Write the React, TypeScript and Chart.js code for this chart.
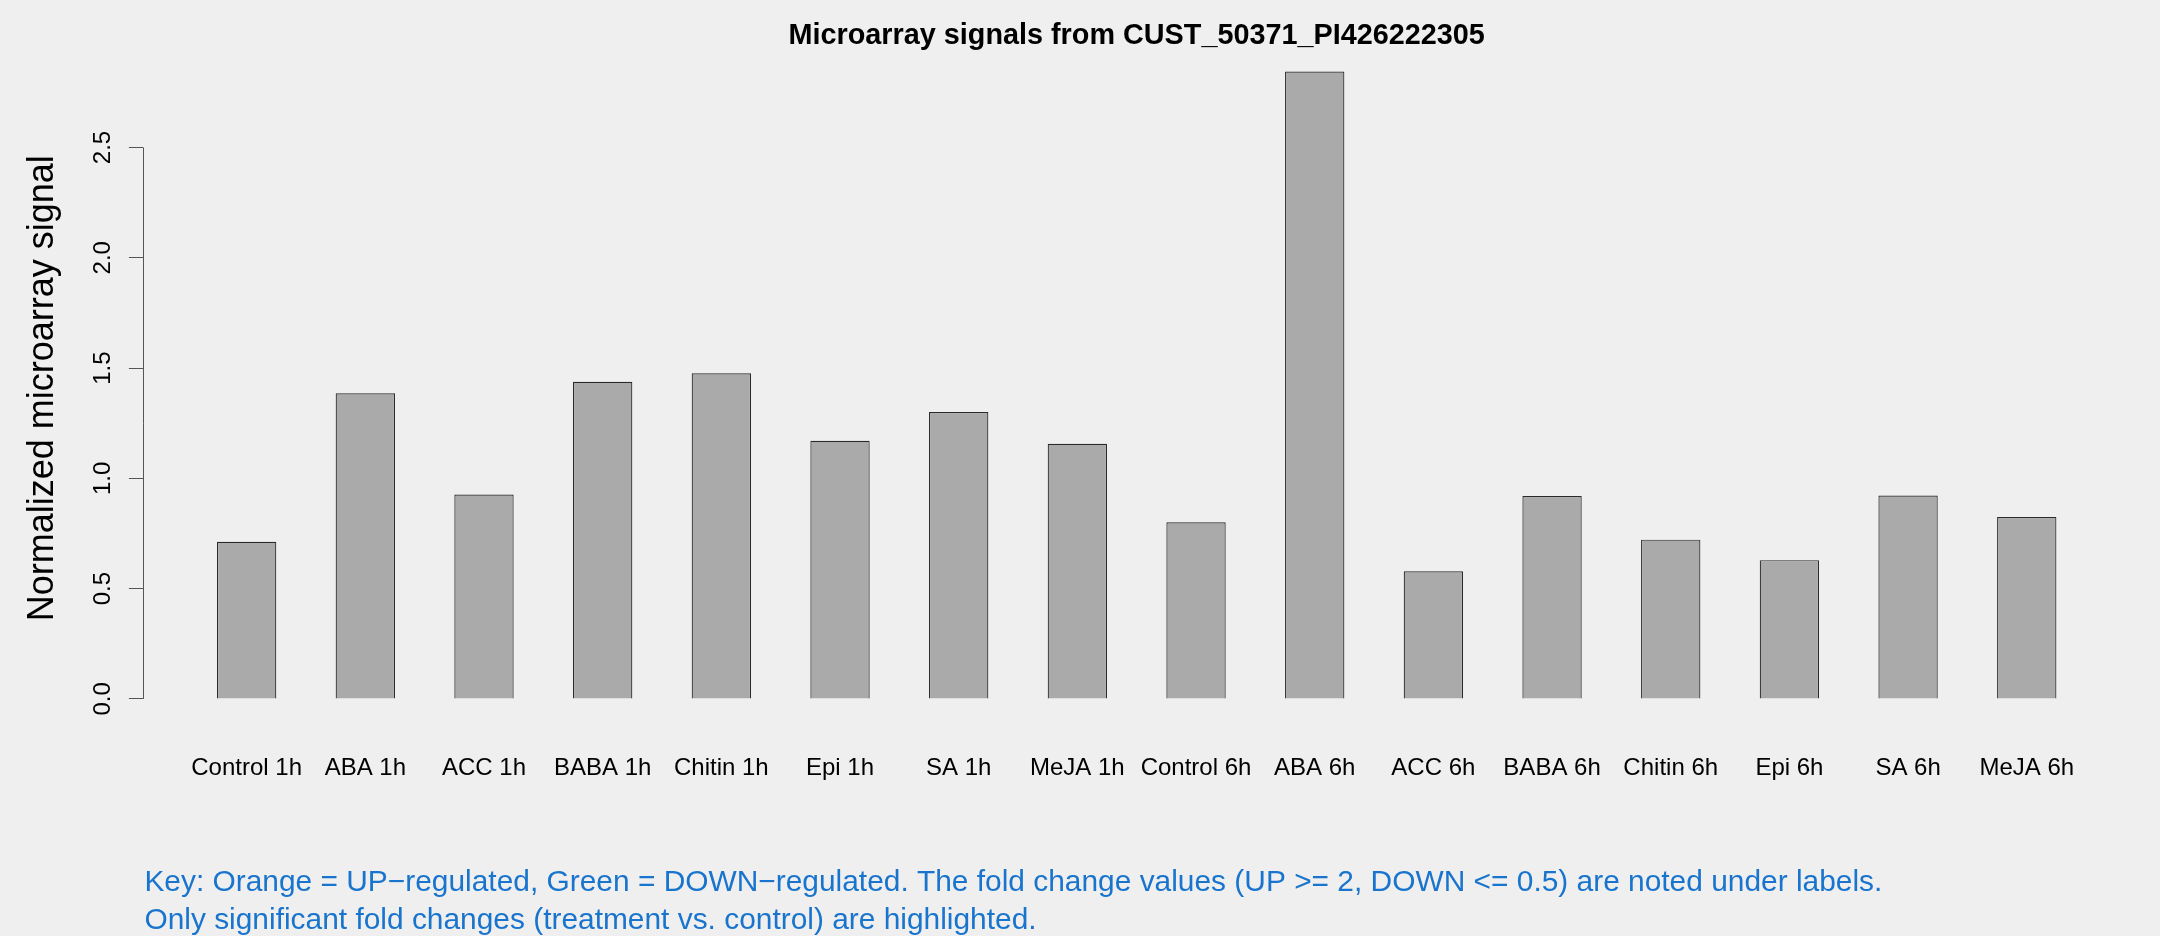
import React, { useEffect, useRef } from "react";
import { Chart, registerables } from "chart.js";

Chart.register(...registerables);

const TITLE = "Microarray signals from CUST_50371_PI426222305";
const Y_TITLE = "Normalized microarray signal";
const CATEGORIES = [
  "Control 1h", "ABA 1h", "ACC 1h", "BABA 1h", "Chitin 1h", "Epi 1h", "SA 1h", "MeJA 1h",
  "Control 6h", "ABA 6h", "ACC 6h", "BABA 6h", "Chitin 6h", "Epi 6h", "SA 6h", "MeJA 6h",
];
const SIGNALS = [
  0.712, 1.386, 0.927, 1.438, 1.476, 1.170, 1.301, 1.157,
  0.801, 2.844, 0.579, 0.920, 0.722, 0.629, 0.922, 0.825,
];
const Y_TICKS = [0, 0.5, 1, 1.5, 2, 2.5];
const Y_TICK_LABELS = ["0.0", "0.5", "1.0", "1.5", "2.0", "2.5"];
const KEY_LINES = [
  "Key: Orange = UP\u2212regulated, Green = DOWN\u2212regulated. The fold change values (UP >= 2, DOWN <= 0.5) are noted under labels.",
  "Only significant fold changes (treatment vs. control) are highlighted.",
];

const FONT = "'Liberation Sans', Arial, Helvetica, sans-serif";

// R barplot geometry (width 1, space 1): bar i spans [2i+1, 2i+2]
const barCenter = (i: number) => 2 * i + 1.5;
const X_LO = 1;
const X_HI = 2 * CATEGORIES.length;
const X_EXT = 0.04 * (X_HI - X_LO);
const Y_MAX = Math.max(...SIGNALS);

const decorPlugin = {
  id: "decor",
  afterDraw(chart: any) {
    const { ctx, chartArea } = chart;
    const ys = chart.scales.y;
    ctx.save();
    // y axis line from first to last tick
    const ax = Math.floor(chartArea.left) + 0.5;
    ctx.strokeStyle = "#555";
    ctx.lineWidth = 1;
    ctx.beginPath();
    ctx.moveTo(ax, ys.getPixelForValue(Y_TICKS[0]));
    ctx.lineTo(ax, ys.getPixelForValue(Y_TICKS[Y_TICKS.length - 1]));
    ctx.stroke();
    // rotated y tick labels
    ctx.fillStyle = "#000";
    ctx.font = `24px ${FONT}`;
    ctx.textAlign = "center";
    ctx.textBaseline = "alphabetic";
    Y_TICKS.forEach((v, i) => {
      const y = ys.getPixelForValue(v);
      ctx.save();
      ctx.translate(chartArea.left - 33.4, y);
      ctx.rotate(-Math.PI / 2);
      ctx.fillText(Y_TICK_LABELS[i], 0, 0);
      ctx.restore();
    });
    // y axis title
    ctx.save();
    ctx.font = `36px ${FONT}`;
    ctx.translate(52.7, (chartArea.top + chartArea.bottom) / 2 + 3);
    ctx.rotate(-Math.PI / 2);
    ctx.fillText(Y_TITLE, 0, 0);
    ctx.restore();
    // key text
    ctx.fillStyle = "#1874CD";
    ctx.font = `29.9px ${FONT}`;
    ctx.textAlign = "left";
    KEY_LINES.forEach((line, i) => {
      ctx.fillText(line, chartArea.left + 1, 891 + i * 37.5);
    });
    ctx.restore();
  },
};

export default function App() {
  const ref = useRef<HTMLCanvasElement>(null);
  useEffect(() => {
    const chart = new Chart(ref.current!, {
      type: "bar",
      data: {
        datasets: [
          {
            data: SIGNALS.map((v, i) => ({ x: barCenter(i), y: v })),
            backgroundColor: "#AAAAAA",
            borderColor: "#2A2A2A",
            borderWidth: 1.2,
            barPercentage: 0.5,
            categoryPercentage: 1,
          },
        ],
      },
      options: {
        animation: false,
        responsive: false,
        devicePixelRatio: 1,
        layout: { padding: { left: 0, right: 30, top: 0, bottom: 0 } },
        plugins: {
          legend: { display: false },
          tooltip: { enabled: false },
          title: {
            display: true,
            text: TITLE,
            fullSize: false,
            color: "#000",
            font: { family: FONT, size: 28.8, weight: "bold", lineHeight: 1 },
            padding: { top: 21.6, bottom: -3.9 },
          },
        },
        scales: {
          x: {
            type: "linear",
            offset: false,
            min: X_LO - X_EXT,
            max: X_HI + X_EXT,
            afterBuildTicks: (s: any) => {
              s.ticks = CATEGORIES.map((_, i) => ({ value: barCenter(i) }));
            },
            afterFit: (s: any) => {
              s.height = 212;
            },
            grid: { display: false, drawTicks: false, offset: false },
            border: { display: false },
            ticks: {
              autoSkip: false,
              maxRotation: 0,
              minRotation: 0,
              padding: 30,
              color: "#000",
              font: { family: FONT, size: 24 },
              callback: (_v: any, i: number) => CATEGORIES[i],
            },
          },
          y: {
            type: "linear",
            min: -0.04 * Y_MAX,
            max: 1.04 * Y_MAX,
            afterBuildTicks: (s: any) => {
              s.ticks = Y_TICKS.map((v) => ({ value: v }));
            },
            afterFit: (s: any) => {
              s.width = 143.4;
            },
            grid: {
              drawOnChartArea: false,
              drawTicks: true,
              tickLength: 14.5,
              color: "#555",
              lineWidth: 1,
            },
            border: { display: false },
            ticks: { display: false },
            title: { display: false },
          },
        },
      },
      plugins: [decorPlugin],
    } as any);
    return () => chart.destroy();
  }, []);
  return (
    <div
      style={{
        position: "fixed",
        left: 0,
        top: 0,
        width: 2160,
        height: 936,
        background: "#EFEFEF",
      }}
    >
      <canvas
        ref={ref}
        width={2160}
        height={936}
        style={{ display: "block", width: 2160, height: 936 }}
      />
    </div>
  );
}
